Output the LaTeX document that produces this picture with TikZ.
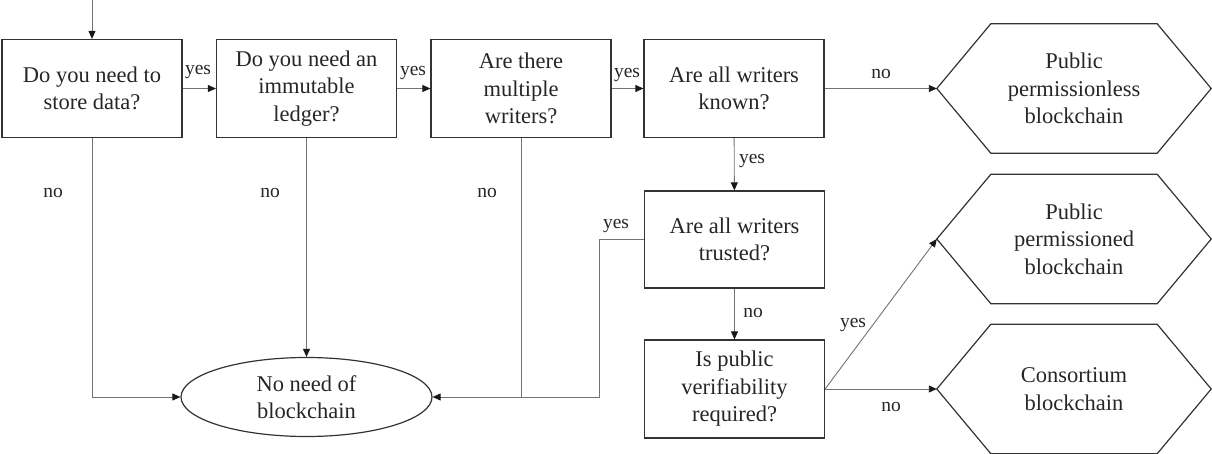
\documentclass[tikz,border=0pt]{standalone}
\usepackage{fontspec}
\setmainfont{Liberation Serif}
\usetikzlibrary{arrows.meta,shapes.geometric}

\tikzset{
  question/.style={draw=black!80, line width=1.2pt, minimum width=180pt, minimum height=98pt,
    inner sep=0pt, align=center, font=\fontsize{22.5pt}{27.5pt}\selectfont, text=black!85},
  outcome/.style={minimum width=274pt, minimum height=129pt, inner sep=0pt, align=center,
    font=\fontsize{22.5pt}{27.5pt}\selectfont, text=black!85},
  terminal/.style={ellipse, draw=black!80, line width=1.2pt, minimum width=251pt, minimum height=79pt,
    inner sep=0pt, align=center, font=\fontsize{22.5pt}{27.5pt}\selectfont, text=black!85},
  link/.style={draw=black!55, line width=0.9pt},
  arr/.style={link, -{Triangle[length=8pt,width=7pt,color=black!90]}},
  lbl/.style={font=\fontsize{19.5pt}{22pt}\selectfont, text=black!85, inner sep=0pt},
  hexedge/.style={draw=black!80, line width=1.2pt, line join=miter}
}

\newcommand{\hexframe}[1]{%
  \draw[hexedge] ([xshift=54pt]#1.north west) -- ([xshift=-54pt]#1.north east) -- (#1.east)
    -- ([xshift=-54pt]#1.south east) -- ([xshift=54pt]#1.south west) -- (#1.west) -- cycle;}

\begin{document}
\begin{tikzpicture}[x=1pt,y=-1pt]
  \useasboundingbox (0,0) rectangle (1212,454);

  % decision boxes
  \node[question] (b1) at (92,88.5)  {Do you need to\\store data?};
  \node[question] (b2) at (306.5,88.5) {Do you need an\\immutable\\ledger?};
  \node[question] (b3) at (521,88.5) {Are there\\multiple\\writers?};
  \node[question] (b4) at (734,88.5) {Are all writers\\known?};
  \node[question, minimum height=97pt] (b5) at (734.5,239.5) {Are all writers\\trusted?};
  \node[question] (b6) at (734.5,389) {Is public\\verifiability\\required?};

  % outcomes
  \node[terminal] (none) at (306.5,397) {No need of\\blockchain};
  \node[outcome] (h1) at (1074,88.5) {Public\\permissionless\\blockchain};
  \node[outcome] (h2) at (1074,239) {Public\\permissioned\\blockchain};
  \node[outcome] (h3) at (1074,389) {Consortium\\blockchain};
  \hexframe{h1}
  \hexframe{h2}
  \hexframe{h3}

  % entry
  \coordinate (start) at (92,0);
  \draw[arr] (start) -- (b1);

  % main chain
  \draw[arr] (b1) -- (b2);
  \draw[arr] (b2) -- (b3);
  \draw[arr] (b3) -- (b4);
  \draw[arr] (b4) -- (h1.west);
  \draw[arr] (b4) -- (b5);
  \draw[arr] (b5) -- (b6);
  \draw[arr] (b6.east) -- (h2.west);
  \draw[arr] (b6.east) -- (h3.west);

  % branches to "no need"
  \draw[arr] (b1.south) |- (none.west);
  \draw[arr] (b2) -- (none);
  \coordinate (turn) at (599,239.5);
  \draw[link] (b3.south) -- (b3.south |- none.east);
  \draw[arr] (b5.west) -- (turn) |- (none.east);

  % labels
  \node[lbl] (l1) at (198,72) {yes};
  \node[lbl] (l2) at (413,73) {yes};
  \node[lbl] (l3) at (627,75) {yes};
  \node[lbl] (l4) at (881,74) {no};
  \node[lbl] (l5) at (53,193) {no};
  \node[lbl] (l6) at (270,193) {no};
  \node[lbl] (l7) at (487,193) {no};
  \node[lbl] (l8) at (752,161) {yes};
  \node[lbl] (l9) at (753,313) {no};
  \node[lbl] (l10) at (616,226) {yes};
  \node[lbl] (l11) at (853,325) {yes};
  \node[lbl] (l12) at (891,407) {no};
\end{tikzpicture}
\end{document}
